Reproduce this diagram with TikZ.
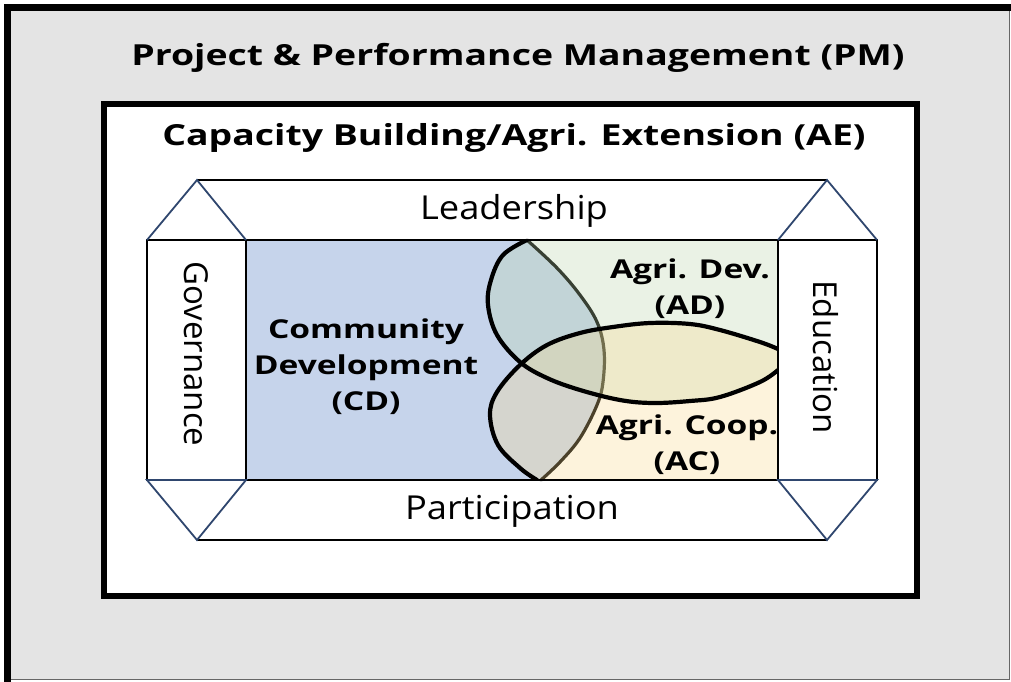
\documentclass[tikz,border=0pt]{standalone}
\usepackage{fontspec}
\setmainfont{Open Sans}
\newfontfamily\boldwide[FakeStretch=1.29]{Open Sans}
\newfontfamily\bandwide[FakeStretch=1.1]{Open Sans}
\definecolor{bggray}{RGB}{228,228,228}
\definecolor{cdblue}{RGB}{198,212,235}
\definecolor{adgreen}{RGB}{188,215,171}
\definecolor{acyellow}{RGB}{250,218,140}
\definecolor{navyline}{RGB}{47,70,110}
\tikzset{
  titletext/.style={font=\boldwide\bfseries\fontsize{29}{34}\selectfont, inner sep=0pt},
  bandtext/.style={font=\bandwide\fontsize{33}{38}\selectfont, inner sep=0pt},
  sidetext/.style={font=\fontsize{33}{38}\selectfont, inner sep=0pt},
  zonetext/.style={font=\boldwide\bfseries\fontsize{26}{36}\selectfont, align=center, inner sep=0pt},
  thinline/.style={line width=1.8pt, draw=black},
  triline/.style={line width=1.8pt, draw=navyline, line join=miter},
  curveline/.style={line width=4.2pt, draw=black, line cap=round},
}
\begin{document}
\begin{tikzpicture}[x=1pt,y=-1pt]
\useasboundingbox (0,0) rectangle (1011,681);
% outer frame
\fill[bggray] (4,4) rectangle (1009,679);
\draw[line width=1pt, draw=black!60] (4,679) -- (1009,679) -- (1009,4);
\draw[line width=7pt, line cap=rect] (7,679) -- (7,7) -- (1009,7);
% inner frame
\draw[line width=6pt, fill=white] (103.5,103.5) rectangle (917,596);
\node[titletext] (pm) at (518,58) {Project \& Performance Management (PM)};
\node[titletext] (ae) at (514,138) {Capacity Building/Agri. Extension (AE)};
% corners of the central block
\coordinate (c1) at (246,240);
\coordinate (c2) at (778,480);
% CD region
\fill[cdblue] (246,240) -- (527,240)
  -- plot[smooth, tension=0.6] coordinates {(527,240) (557,268) (580,295) (597,322) (604,350) (603,382) (597,405) (580,438) (560,462) (541,480)}
  -- (246,480) -- cycle;
\draw[line width=3.2pt, line cap=round] plot[smooth, tension=0.6] coordinates {(527,240) (557,268) (580,295) (597,322) (604,350) (603,382) (597,405) (580,438) (560,462) (541,480)};
% AD region
\fill[adgreen, fill opacity=0.3] (778,240) -- (527,240)
  -- plot[smooth, tension=0.6] coordinates {(527,240) (503,255) (491,280) (488,305) (497,335) (520,362) (547,378) (580,390) (620,400) (653,403) (690,401) (720,397) (760,382) (778,370)}
  -- cycle;
% AC region
\fill[acyellow, fill opacity=0.3] (778,480) -- (537,480)
  -- plot[smooth, tension=0.6] coordinates {(537,480) (520,468) (498,445) (490,415) (497,392) (520,365) (547,345) (580,333) (613,327) (650,323) (690,324) (720,330) (760,342) (778,349)}
  -- cycle;
\begin{scope}
\clip (246,240) rectangle (778,480);
\draw[curveline] plot[smooth, tension=0.6] coordinates {(527,240) (503,255) (491,280) (488,305) (497,335) (520,362) (547,378) (580,390) (620,400) (653,403) (690,401) (720,397) (760,382) (778,370)};
\draw[curveline] plot[smooth, tension=0.6] coordinates {(537,480) (520,468) (498,445) (490,415) (497,392) (520,365) (547,345) (580,333) (613,327) (650,323) (690,324) (720,330) (760,342) (778,349)};
\end{scope}
\draw[thinline] (c1) rectangle (c2);
% side boxes
\draw[thinline] (147,240) rectangle (246,480);
\draw[thinline] (778,240) rectangle (877,480);
% bands
\draw[thinline] (197,180) -- (827,180);
\draw[thinline] (197,540) -- (827,540);
\draw[triline] (147,240) -- (197,180) -- (246,240);
\draw[triline] (778,240) -- (827,180) -- (877,240);
\draw[triline] (147,480) -- (246,480) -- (197,540) -- cycle;
\draw[triline] (778,480) -- (877,480) -- (827,540) -- cycle;
% labels
\node[bandtext] (lead) at (514,211) {Leadership};
\node[bandtext] (part) at (512,511) {Participation};
\node[sidetext, rotate=-90] (gov) at (196,354) {Governance};
\node[sidetext, rotate=-90] (edu) at (826,357) {Education};
\node[zonetext] (cd) at (366,367) {Community\\Development\\(CD)};
\node[zonetext] (ad) at (690,289) {Agri. Dev.\\(AD)};
\node[zonetext] (ac) at (687,445) {Agri. Coop.\\(AC)};
\end{tikzpicture}
\end{document}
